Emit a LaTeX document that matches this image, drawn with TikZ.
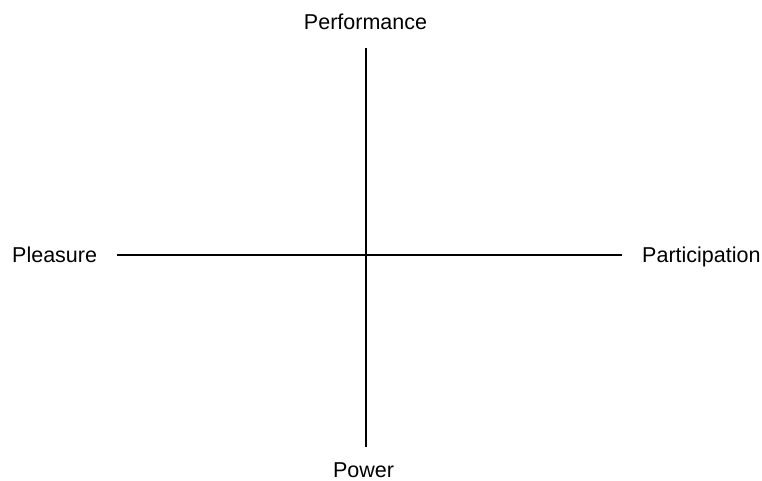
\documentclass[tikz,border=0pt]{standalone}
\usepackage{fontspec}
\setmainfont{Liberation Sans}
\begin{document}
\begin{tikzpicture}[x=1pt,y=-1pt,
  lbl/.style={inner sep=0pt,anchor=base,font=\fontsize{21.5}{24}\selectfont},
  axis/.style={draw=black,line width=1.3pt}]
\useasboundingbox (0,0) rectangle (762,480);
\node[lbl] (perf) at (365.5,29) {Performance};
\node[lbl] (pow) at (363.5,477) {Power};
\node[lbl,anchor=base west] (plea) at (12,262) {Pleasure};
\node[lbl,anchor=base west] (part) at (642,262) {Participation};
\coordinate (top) at (366,48);
\coordinate (bot) at (366,447);
\coordinate (left) at (117,255);
\coordinate (right) at (622,255);
\draw[axis] (top) -- (bot);
\draw[axis] (left) -- (right);
\end{tikzpicture}
\end{document}
